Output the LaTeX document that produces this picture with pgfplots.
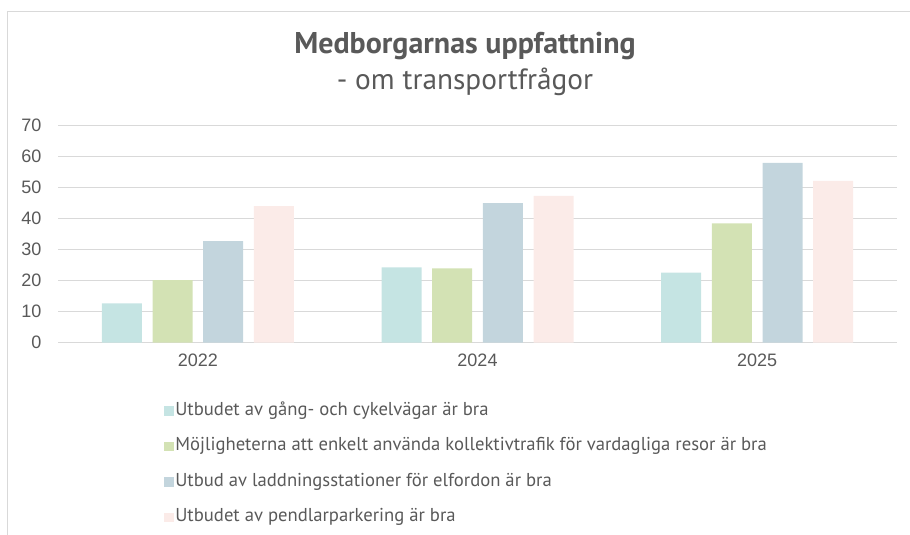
\documentclass[border=0pt]{standalone}
\usepackage{fontspec}
\setmainfont{Liberation Sans}
\newfontfamily\titlefont{PT Sans}
\usepackage{pgfplots}
\pgfplotsset{compat=1.18}
\definecolor{c1}{HTML}{C5E4E3}
\definecolor{c2}{HTML}{D3E2B4}
\definecolor{c3}{HTML}{C3D5DD}
\definecolor{c4}{HTML}{FBEBE8}
\definecolor{gridc}{HTML}{D9D9D9}
\definecolor{txt}{HTML}{595959}
\begin{document}
\begin{tikzpicture}[x=0.75pt,y=0.75pt]
\useasboundingbox (0,0) rectangle (910,535);
\draw[gridc, line width=0.75pt] (7.5,-20) -- (7.5,523.5) -- (950,523.5);
\node[font=\titlefont\bfseries\fontsize{22.5}{26}\selectfont, text=txt] at (465,489) {Medborgarnas uppfattning};
\node[font=\titlefont\fontsize{22}{26}\selectfont, text=txt] at (465,453) {- om transportfrågor};
\begin{axis}[
  at={(43.5pt,144.2pt)}, anchor=south west,
  scale only axis, width=629.25pt, height=162.75pt,
  xmin=-0.5, xmax=2.5, ymin=0, ymax=70,
  ybar=8pt, bar width=30pt,
  xtick={0,1,2}, xticklabels={2022,2024,2025},
  ytick={0,10,...,70},
  major tick length=0pt,
  axis line style={draw=none},
  ymajorgrids, grid style={gridc, line width=0.9pt},
  tick label style={font=\fontsize{13.5}{15}\selectfont, text=txt},
  xticklabel style={yshift=-5pt},
  yticklabel style={xshift=-9pt},
  /pgf/number format/assume math mode=true,
  legend cell align=left,
  legend style={at={(0.126,-0.271)}, anchor=north west, draw=none, fill=none,
    inner sep=0pt, row sep=12.6pt,
    font=\titlefont\fontsize{14}{16}\selectfont, text=txt,
    nodes={inner sep=1pt, text height=9pt, text depth=3pt}},
  legend image code/.code={\fill[#1] (0pt,-3.6pt) rectangle (7.5pt,3.6pt);},
]
\addplot[fill=c1, draw=none] coordinates {(0,12.7) (1,24.3) (2,22.6)};
\addplot[fill=c2, draw=none] coordinates {(0,20.2) (1,24.0) (2,38.5)};
\addplot[fill=c3, draw=none] coordinates {(0,32.8) (1,45.0) (2,58.0)};
\addplot[fill=c4, draw=none] coordinates {(0,44.1) (1,47.4) (2,52.2)};
\legend{Utbudet av gång- och cykelvägar är bra,
Möjligheterna att enkelt använda kollektivtrafik för vardagliga resor är bra,
Utbud av laddningsstationer för elfordon är bra,
Utbudet av pendlarparkering är bra}
\end{axis}
\end{tikzpicture}
\end{document}
